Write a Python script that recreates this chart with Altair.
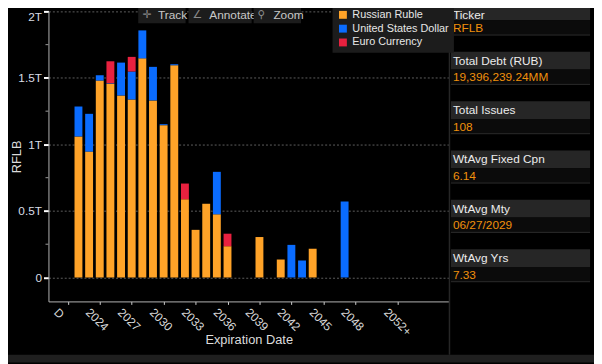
import altair as alt
import pandas as pd

# ---------------- data ----------------
years = list(range(2022, 2048))
rub = [1.06, 0.946, 1.48, 1.456, 1.368, 1.338, 1.647, 1.331, 1.145, 1.596,
       0.588, 0.358, 0.554, 0.475, 0.235, 0, 0, 0.304, 0, 0.135,
       0, 0, 0.216, 0, 0, 0]
usd = [0.225, 0.284, 0.04, 0.004, 0.247, 0.21, 0.21, 0.252, 0.007, 0.007,
       0, 0, 0, 0.319, 0, 0, 0, 0, 0, 0,
       0.245, 0.127, 0, 0, 0, 0.571]
eur = [0, 0, 0, 0.165, 0, 0.11, 0, 0, 0, 0,
       0.118, 0, 0, 0, 0.094, 0, 0, 0, 0, 0,
       0, 0, 0, 0, 0, 0]
currencies = ["Russian Ruble", "United States Dollar", "Euro Currency"]
colors = ["#ffa328", "#0a6cff", "#e8213f"]

y_major = [0, 0.5, 1, 1.5, 2]
y_minor = [0.25, 0.75, 1.25, 1.75]
x_ticks = [2021, 2024, 2027, 2030, 2033, 2036, 2039, 2042, 2045, 2048, 2052]

panel_labels = ["Ticker", "Total Debt (RUB)", "Total Issues", "WtAvg Fixed Cpn", "WtAvg Mty", "WtAvg Yrs"]
panel_values = ["RFLB", "19,396,239.24MM", "108", "6.14", "06/27/2029", "7.33"]

toolbar = [("✛", "Track"), ("∠", "Annotate"), ("⚲", "Zoom")]

rows = []
for i, yr in enumerate(years):
    for k, series in enumerate([rub, usd, eur]):
        if series[i] > 0:
            rows.append({"year": yr, "currency": currencies[k], "value": series[i], "ord": k})
df = pd.DataFrame(rows)

FONT = "Liberation Sans"
W, H = 406, 294

x_scale = alt.Scale(domain=[2019.644, 2056.34], nice=False, zero=False)
y_scale = alt.Scale(domain=[-0.18, 2.0], nice=False, zero=False)

y_axis = alt.Axis(values=y_major, grid=True, gridColor="#5e5e5e", gridDash=[2, 2],
                  labelExpr="datum.value == 0 ? '0' : datum.value + 'T'",
                  labelColor="#d8dde4", labelFontSize=12, labelFont=FONT, labelPadding=2,
                  labelFlush=True,
                  domainColor="#b4b4b4", tickColor="#ffffff", tickSize=5, tickWidth=2,
                  title="RFLB", titleColor="#dcdcdc", titleFont=FONT, titleFontSize=13,
                  titleFontWeight="normal", titleX=-32, titleY=147,
                  titleAlign="center", titleBaseline="middle")

bars = alt.Chart(df).mark_bar(size=8).encode(
    x=alt.X("year:Q", scale=x_scale,
            axis=alt.Axis(values=x_ticks, format="d", grid=False,
                          labelExpr="datum.value == 2021 ? 'D' : (datum.value == 2052 ? '2052+' : datum.label)",
                          labelAngle=45, labelAlign="left", labelBaseline="top",
                          labelOffset=-9, labelPadding=2, labelFlush=False, labelOverlap=False,
                          labelColor="#d8d8d8", labelFontSize=12, labelFont=FONT,
                          domainColor="#b4b4b4", tickColor="#d0d0d0", tickSize=3,
                          title="Expiration Date", titleColor="#dcdcdc", titleFont=FONT,
                          titleFontSize=13, titleFontWeight="normal",
                          titleX=203, titleY=39, titleBaseline="middle", titleAlign="center")),
    y=alt.Y("value:Q", stack="zero", scale=y_scale, axis=y_axis),
    color=alt.Color("currency:N", scale=alt.Scale(domain=currencies, range=colors),
                    legend=alt.Legend(title=None, orient="none", legendX=288, legendY=-7,
                                      direction="vertical", fillColor="#1c1c1c", padding=5,
                                      labelColor="#e6e6e6", labelFont=FONT, labelFontSize=11,
                                      symbolType="square", symbolSize=64, symbolStrokeWidth=0,
                                      rowPadding=2, labelOffset=4)),
    order=alt.Order("ord:Q", sort="ascending"),
)

minor = alt.Chart(pd.DataFrame({"value": y_minor})).mark_rule(color="#9a9a9a").encode(
    y=alt.Y("value:Q", scale=y_scale, axis=y_axis), x=alt.value(-3), x2=alt.value(0))


def rect(x, x2, y, y2, fill):
    return alt.Chart(pd.DataFrame({"a": [0]})).mark_rect(fill=fill).encode(
        x=alt.value(x), x2=alt.value(x2), y=alt.value(y), y2=alt.value(y2))


def txt(s, x, y, color, size=12, align="left", font=FONT):
    return alt.Chart(pd.DataFrame({"t": [s]})).mark_text(
        align=align, baseline="middle", color=color, fontSize=size, font=font).encode(
        text="t:N", x=alt.value(x), y=alt.value(y))


deco = []
# bottom band and separator
deco.append(rect(-49, 553, 348, 356, "#1f1f1f"))
deco.append(alt.Chart(pd.DataFrame({"a": [0]})).mark_rule(color="#262626", strokeWidth=1.5).encode(
    x=alt.value(406.5), y=alt.value(-9), y2=alt.value(348)))
# toolbar
tb_x = [(91, 139, 100, 111), (142, 206, 151, 163), (208, 256, 216, 228)]
for (icon, lab), (bx, bx2, ix, tx) in zip(toolbar, tb_x):
    deco.append(rect(bx, bx2, -9, 12, "#1c1c1c"))
    deco.append(txt(icon, ix, 4, "#8a8a8a", 11, "center", "DejaVu Sans"))
    deco.append(txt(lab, tx, 4, "#c8c8c8", 12))
# right panel
for i, (lab, val) in enumerate(zip(panel_labels, panel_values)):
    top = 50 * i
    deco.append(rect(408, 549, top - 9, top + 9, "#262626"))
    deco.append(rect(408, 549, top + 9, top + 24, "#0b0b0b"))
    deco.append(alt.Chart(pd.DataFrame({"a": [0]})).mark_rule(color="#2c2c2c").encode(
        x=alt.value(408), x2=alt.value(549), y=alt.value(top + 24)))
    deco.append(txt(lab, 410, top + (4 if i == 0 else 0), "#ececec", 12))
    deco.append(txt(val, 410, top + 17, "#f0900c", 12))

chart = alt.layer(bars, minor, *deco).properties(
    width=W, height=H,
    autosize=alt.AutoSizeParams(type="none"),
    padding={"left": 41, "top": 1, "right": 147, "bottom": 61},
    background="#000000",
).configure_view(stroke=None)

chart.save("out.html", embed_options={"renderer": "svg", "actions": False})
